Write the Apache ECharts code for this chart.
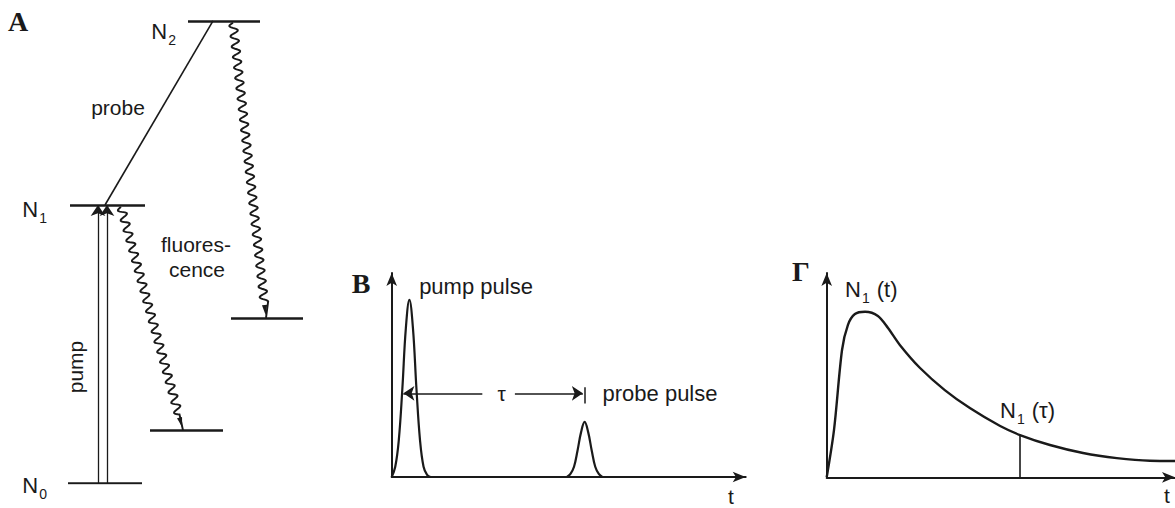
<!DOCTYPE html>
<html>
<head>
<meta charset="utf-8">
<script src="https://cdn.jsdelivr.net/npm/echarts@6/dist/echarts.min.js"></script>
<style>
  html, body { margin: 0; padding: 0; background: #fff; }
  #chart { width: 1175px; height: 508px; }
</style>
</head>
<body>
<div id="chart"></div>
<script>
// ---- panel A: level scheme (energy in units of N1 - N0) ----
const levelEnergy = [0, 1, 1.662, 0.19, 0.594];   // N0, N1, N2, lower level 1, lower level 2
const levelFrom = [68, 70, 188, 150, 231];
const levelTo = [142, 145, 260, 223, 303];
const probeLine = [[105, 1], [213, 1.662]];
const pumpArrows = [[[98, 0], [98, 1]], [[107, 0], [107, 1]]];
const fluorescence = [[121, 0.993, 183, 0.19], [233, 1.655, 266, 0.594]];

// ---- panel B: pump and probe pulses (time, intensity) ----
const pumpPulse = [[0, 0], [1, 0.05], [2, 0.18], [3, 0.43], [4, 0.73], [5, 0.868],
  [6, 0.73], [7, 0.43], [8, 0.18], [9, 0.05], [10, 0.01], [11, 0]];
const probePulse = [[49.5, 0], [50.5, 0.015], [51.5, 0.05], [52.5, 0.13], [53.5, 0.22],
  [54.5, 0.27], [55.5, 0.22], [56.5, 0.13], [57.5, 0.05], [58.5, 0.015], [59.5, 0]];
const tauY = 0.41;
const tauLeft = [25.6, 3.3];
const tauRight = [34.8, 54.0];
const tauBar = [54.6, 0.36, 0.44];

// ---- panel C: N1(t) ----
const n1Curve = [[0, 0], [2.1, 0.232], [4.4, 0.623], [6.1, 0.746], [8.1, 0.799], [11.0, 0.81],
  [14.7, 0.79], [17.6, 0.731], [21.0, 0.648], [26.8, 0.535], [33.9, 0.427], [41.1, 0.339],
  [49.8, 0.251], [55.5, 0.207], [64.1, 0.158], [73.6, 0.119], [83.3, 0.094], [92.8, 0.081], [100, 0.08]];
const tauTime = 55.5;
const n1AtTau = 0.207;

const ink = '#1a1a1a';
const sans = '"Liberation Sans", Arial, sans-serif';
const serif = '"Liberation Serif", "Times New Roman", serif';

const chart = echarts.init(document.getElementById('chart'), null, {renderer: 'svg'});

function hiddenAxis(min, max, idx) {
  return {type: 'value', gridIndex: idx, min: min, max: max, show: false};
}
function arrowAxis(min, max, idx) {
  return {
    type: 'value', gridIndex: idx, min: min, max: max,
    axisLine: {show: true, onZero: false, symbol: ['none', 'arrow'], symbolSize: [8, 13],
      lineStyle: {color: ink, width: 2}},
    axisTick: {show: false}, axisLabel: {show: false}, splitLine: {show: false}
  };
}

// wavy arrow between two points, drawn in pixel space
function wavy(params, api) {
  const a = api.coord([api.value(0), api.value(1)]);
  const b = api.coord([api.value(2), api.value(3)]);
  const dx = b[0] - a[0], dy = b[1] - a[1];
  const len = Math.sqrt(dx * dx + dy * dy);
  const ux = dx / len, uy = dy / len, nx = -uy, ny = ux;
  const waveEnd = len - 16;
  const pts = [];
  for (let s = 0; s <= waveEnd; s += 0.7) {
    const off = 4 * Math.sin(2 * Math.PI * s / 10.5);
    pts.push([a[0] + ux * s + nx * off, a[1] + uy * s + ny * off]);
  }
  pts.push([b[0], b[1]]);
  const tip = len - 3, base = len - 13;
  return {
    type: 'group',
    children: [
      {type: 'polyline', shape: {points: pts}, style: {stroke: ink, lineWidth: 1.9, fill: null}},
      {type: 'polygon', shape: {points: [
        [a[0] + ux * tip, a[1] + uy * tip],
        [a[0] + ux * base + nx * 2.6, a[1] + uy * base + ny * 2.6],
        [a[0] + ux * base - nx * 2.6, a[1] + uy * base - ny * 2.6]
      ]}, style: {fill: ink}}
    ]
  };
}

function txt(x, y, text, opts) {
  return Object.assign({
    type: 'text', x: x, y: y,
    style: {text: text, fontSize: 21, fontFamily: sans, fill: ink, align: 'center', verticalAlign: 'middle'}
  }, opts || {});
}

function letter(x, y, text) {
  return {
    type: 'text', x: x, y: y,
    style: {text: text, fontSize: 28, fontWeight: 'bold', fontFamily: serif, fill: ink,
      align: 'center', verticalAlign: 'middle'}
  };
}

// "N" with a subscript, plus optional tail
function nLabel(x, y, s, align, tail) {
  return {
    type: 'text', x: x, y: y,
    style: {
      text: '{n|N}{s|' + s + '}' + (tail ? '{n|' + tail + '}' : ''),
      rich: {
        n: {fontSize: 22, fontFamily: sans, fill: ink},
        s: {fontSize: 14, fontFamily: sans, fill: ink, padding: [18, 1, 0, 1]}
      },
      align: align, verticalAlign: 'middle'
    }
  };
}

const option = {
  animation: false,
  backgroundColor: '#fff',
  grid: [
    {left: 0, width: 320, top: 10.4, height: 472.6},
    {left: 391.7, width: 354, top: 273, height: 204},
    {left: 826.7, width: 348.3, top: 273, height: 204.3}
  ],
  xAxis: [hiddenAxis(0, 320, 0), arrowAxis(0, 100, 1), arrowAxis(0, 100, 2)],
  yAxis: [hiddenAxis(0, 1.7, 0), arrowAxis(0, 1, 1), arrowAxis(0, 1, 2)],
  series: [
    {
      type: 'lines', coordinateSystem: 'cartesian2d', xAxisIndex: 0, yAxisIndex: 0,
      data: levelEnergy.map((e, i) => ({coords: [[levelFrom[i], e], [levelTo[i], e]]})),
      lineStyle: {color: ink, width: 2.6, opacity: 1}, symbol: 'none'
    },
    {
      type: 'line', xAxisIndex: 0, yAxisIndex: 0, data: probeLine, showSymbol: false,
      lineStyle: {color: ink, width: 1.6}
    },
    {
      type: 'lines', coordinateSystem: 'cartesian2d', xAxisIndex: 0, yAxisIndex: 0,
      data: pumpArrows.map(c => ({coords: c})),
      lineStyle: {color: ink, width: 1.3, opacity: 1}, symbol: ['none', 'arrow'], symbolSize: [5, 11]
    },
    {
      type: 'custom', xAxisIndex: 0, yAxisIndex: 0, data: fluorescence,
      encode: {x: [0, 2], y: [1, 3]}, renderItem: wavy
    },
    {
      type: 'line', xAxisIndex: 1, yAxisIndex: 1, data: pumpPulse, smooth: 0.4, showSymbol: false,
      lineStyle: {color: ink, width: 2.2}
    },
    {
      type: 'line', xAxisIndex: 1, yAxisIndex: 1, data: probePulse, smooth: 0.4, showSymbol: false,
      lineStyle: {color: ink, width: 2.2}
    },
    {
      type: 'lines', coordinateSystem: 'cartesian2d', xAxisIndex: 1, yAxisIndex: 1,
      data: [
        {coords: [[tauLeft[0], tauY], [tauLeft[1], tauY]]},
        {coords: [[tauRight[0], tauY], [tauRight[1], tauY]]}
      ],
      lineStyle: {color: ink, width: 1.5, opacity: 1}, symbol: ['none', 'arrow'], symbolSize: [7, 11]
    },
    {
      type: 'lines', coordinateSystem: 'cartesian2d', xAxisIndex: 1, yAxisIndex: 1,
      data: [{coords: [[tauBar[0], tauBar[1]], [tauBar[0], tauBar[2]]]}],
      lineStyle: {color: ink, width: 1.5, opacity: 1}, symbol: 'none'
    },
    {
      type: 'line', xAxisIndex: 2, yAxisIndex: 2, data: n1Curve, smooth: 0.3, showSymbol: false,
      lineStyle: {color: ink, width: 2.4}
    },
    {
      type: 'line', xAxisIndex: 2, yAxisIndex: 2, data: [[tauTime, 0], [tauTime, n1AtTau]],
      showSymbol: false, lineStyle: {color: ink, width: 1.6}
    }
  ],
  graphic: [
    letter(18, 21, 'A'),
    letter(361, 283, 'B'),
    letter(801, 271, 'Γ'),
    nLabel(177, 31, '2', 'right'),
    nLabel(48, 209, '1', 'right'),
    nLabel(48, 485, '0', 'right'),
    txt(118, 107, 'probe'),
    txt(196, 244, 'fluores-'),
    txt(197, 269, 'cence'),
    txt(75, 367, 'pump', {rotation: Math.PI / 2}),
    txt(476, 286, 'pump pulse', {style: {text: 'pump pulse', fontSize: 22, fontFamily: sans, fill: ink, align: 'center', verticalAlign: 'middle'}}),
    txt(501.7, 393, 'τ'),
    txt(660, 393, 'probe pulse', {style: {text: 'probe pulse', fontSize: 22, fontFamily: sans, fill: ink, align: 'center', verticalAlign: 'middle'}}),
    txt(731, 496, 't'),
    txt(1167, 495, 't'),
    nLabel(845, 289, '1', 'left', ' (t)'),
    nLabel(1000, 410, '1', 'left', ' (τ)')
  ]
};

chart.setOption(option);
</script>
</body>
</html>
